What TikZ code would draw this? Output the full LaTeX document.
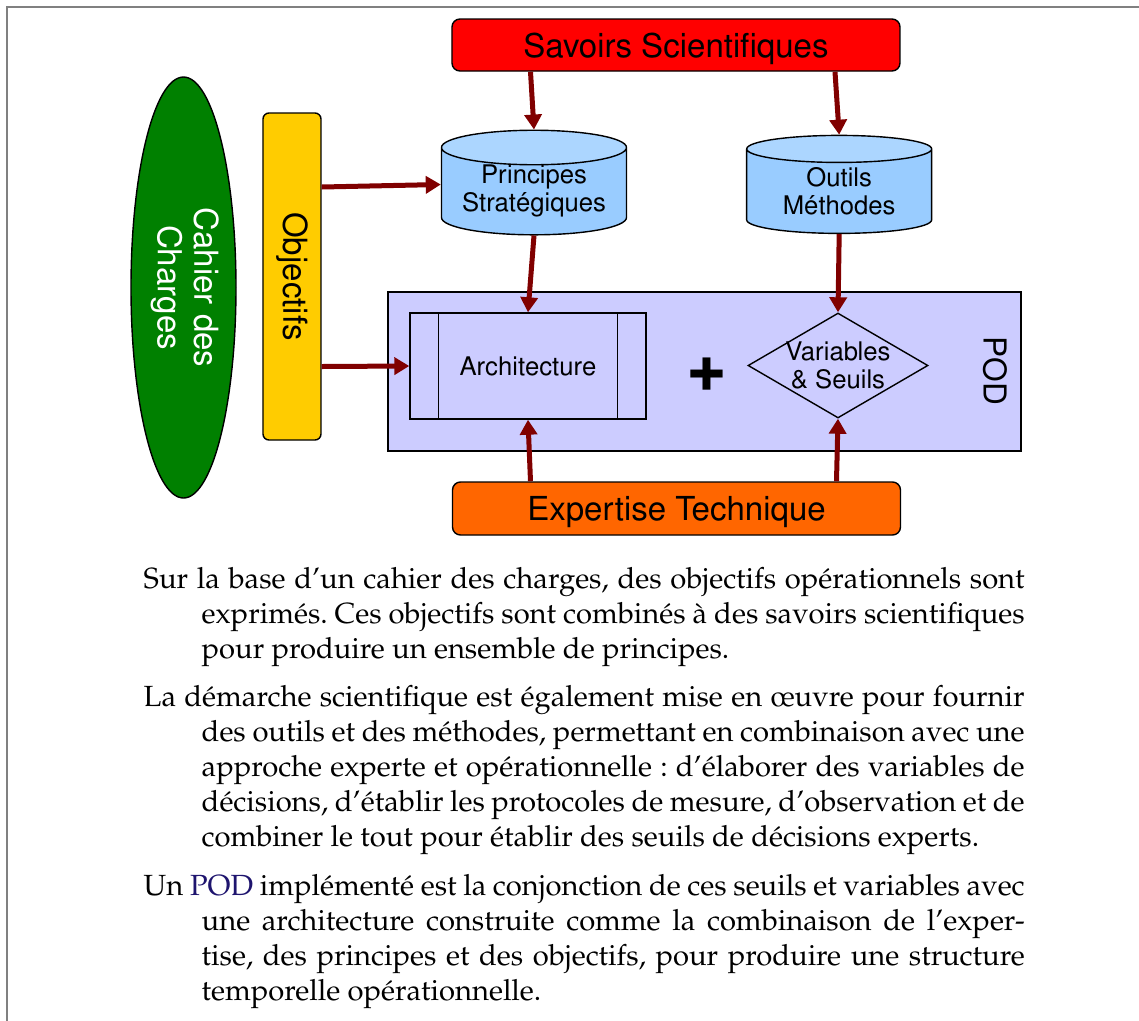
\documentclass[tikz,border=0pt]{standalone}
\usepackage[T1]{fontenc}
\usepackage{mathpazo}
\usepackage[scaled=1]{helvet}
\usepackage{graphicx}
\usepackage{xcolor}
\usetikzlibrary{shapes.geometric, arrows.meta, positioning}
\definecolor{darkred}{RGB}{128,0,0}
\definecolor{savred}{RGB}{255,0,0}
\definecolor{exporange}{RGB}{255,102,0}
\definecolor{cahgreen}{RGB}{0,128,0}
\definecolor{objyellow}{RGB}{255,204,0}
\definecolor{cylblue}{RGB}{153,204,255}
\definecolor{cyltop}{RGB}{172,214,255}
\definecolor{podblue}{RGB}{204,204,255}
\definecolor{podnavy}{RGB}{30,20,110}
\definecolor{framegray}{RGB}{128,128,128}
\newcommand{\bigsans}{\fontsize{9.4}{10.4}\selectfont\sffamily}
\newcommand{\midsans}{\fontsize{7.3}{8}\selectfont\sffamily}
\newcommand{\podsans}{\fontsize{9}{10}\selectfont\sffamily}
\newcommand{\plussans}{\fontsize{19}{20}\selectfont\sffamily\bfseries}
\newcommand{\bodyfont}{\fontsize{8.3}{9.96}\selectfont\rmfamily}
\newcommand{\hangpar}{\noindent\hangindent=0.58cm\hangafter=1\relax}

\begin{document}
\begin{tikzpicture}[
  block/.style={rectangle, rounded corners=0.08cm, draw=black, line width=0.4pt,
                minimum width=4.48cm, minimum height=0.52cm, inner sep=0pt, text depth=0pt, font=\bigsans},
  db/.style={cylinder, shape border rotate=90, aspect=0.24, draw=black,
             cylinder uses custom fill, cylinder body fill=cylblue, cylinder end fill=cyltop,
             minimum width=1.85cm, minimum height=0.98cm, inner sep=0pt, align=center, font=\midsans},
  podfill/.style={draw=black, line width=0.4pt, fill=podblue, inner sep=0pt},
  arrow/.style={-{Triangle[length=0.15cm, width=0.17cm]}, line width=0.05cm, color=darkred}
]
\useasboundingbox (0,0) rectangle (11.39,-10.21);
\draw[framegray, line width=0.02cm] (0.07,-10.21) -- (0.07,-0.07) -- (11.39,-0.07);

% --- Sources ---
\node[block, fill=savred] (savoirs) at (6.76,-0.45) {Savoirs Scientifiques};
\node[block, fill=exporange, minimum height=0.53cm] (expertise) at (6.765,-5.085) {Expertise Technique};

\node[ellipse, draw=black, fill=cahgreen, minimum width=1.05cm, minimum height=4.21cm,
      inner sep=0pt, text=white, font=\bigsans] (cahier) at (1.835,-2.875)
      {\rotatebox{-90}{\begin{tabular}{@{}c@{}}Cahier des\\Charges\end{tabular}}};
\node[rectangle, rounded corners=0.06cm, draw=black, fill=objyellow, minimum width=0.58cm,
      minimum height=3.27cm, inner sep=0pt, font=\bigsans] (objectifs) at (2.92,-2.765)
      {\rotatebox{-90}{Objectifs}};

\node[db] (principes) at (5.34,-1.915) {Principes\\Strat\'egiques};
\node[db] (outils) at (8.392,-1.915) {Outils\\M\'ethodes};

% --- POD ---
\node[podfill, minimum width=6.33cm, minimum height=1.59cm] (pod) at (7.045,-3.715) {};
\node[font=\podsans] (podlabel) at (9.95,-3.71) {\rotatebox{-90}{POD}};
\node[podfill, minimum width=2.36cm, minimum height=1.06cm, font=\midsans] (arch) at (5.28,-3.66) {Architecture};
\draw ([xshift=0.29cm]arch.north west) -- ([xshift=0.29cm]arch.south west);
\draw ([xshift=-0.29cm]arch.north east) -- ([xshift=-0.29cm]arch.south east);
\node[font=\plussans] (plus) at (7.07,-3.72) {+};
\node[diamond, podfill, minimum width=1.80cm, minimum height=1.05cm] (var) at (8.38,-3.655) {};
\node[font=\midsans, align=center] (vartext) at (var) {Variables\\\& Seuils};

% --- Arrows ---
\draw[arrow] ([xshift=-1.455cm]savoirs.south) -- (principes.north);
\draw[arrow] ([xshift=1.59cm]savoirs.south) -- (outils.north);
\draw[arrow] ([yshift=0.895cm]objectifs.east) -- ([yshift=0.07cm]principes.west);
\draw[arrow] ([yshift=-0.90cm]objectifs.east) -- (arch.west);
\draw[arrow] (principes.south) -- (arch.north);
\draw[arrow] (outils.south) -- (var.north);
\draw[arrow] ([xshift=-1.46cm]expertise.north) -- (arch.south);
\draw[arrow] ([xshift=1.60cm]expertise.north) -- (var.south);

% --- Description ---
\node[anchor=base west, text width=8.81cm, align=justify, inner sep=0pt, font=\bodyfont] (desc) at (1.43,-5.88)
{\setlength{\parskip}{3.9pt}\frenchspacing\hyphenpenalty=10000\tolerance=10000
\hangpar Sur la base d'un cahier des charges, des objectifs op\'erationnels sont\linebreak
exprim\'es. Ces objectifs sont combin\'es \`a des savoirs scientifiques\linebreak
pour produire un ensemble de principes.\par
\hangpar La d\'emarche scientifique est \'egalement mise en \oe uvre pour fournir\linebreak
des outils et des m\'ethodes, permettant en combinaison avec une\linebreak
approche experte et op\'erationnelle : d'\'elaborer des variables de\linebreak
d\'ecisions, d'\'etablir les protocoles de mesure, d'observation et de\linebreak
combiner le tout pour \'etablir des seuils de d\'ecisions experts.\par
\hangpar Un \textcolor{podnavy}{POD} impl\'ement\'e est la conjonction de ces seuils et variables avec\linebreak
une architecture construite comme la combinaison de l'exper-\linebreak
tise, des principes et des objectifs, pour produire une structure\linebreak
temporelle op\'erationnelle.\par};
\end{tikzpicture}
\end{document}
